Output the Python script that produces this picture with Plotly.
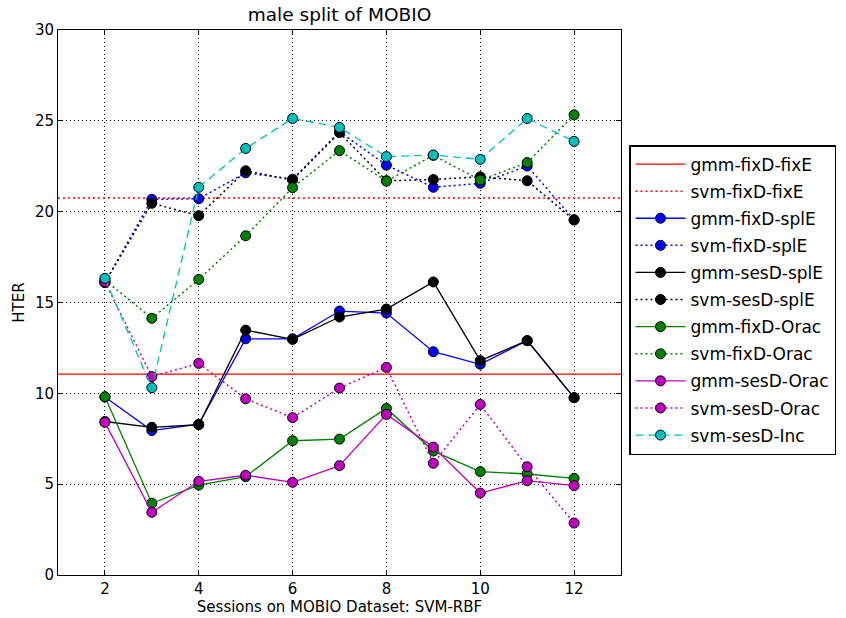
import plotly.graph_objects as go

sessions = [2, 3, 4, 5, 6, 7, 8, 9, 10, 11, 12]

gmm_fixD_fixE = 11.06
svm_fixD_fixE = 20.75

gmm_fixD_splE = [9.80, 7.95, 8.30, 13.0, 13.0, 14.53, 14.42, 12.29, 11.60, 12.90, 9.76]
svm_fixD_splE = [16.10, 20.68, 20.71, 22.14, 21.79, 24.40, 22.56, 21.34, 21.56, 22.51, 19.56]
gmm_sesD_splE = [8.45, 8.13, 8.27, 13.48, 12.97, 14.20, 14.64, 16.13, 11.80, 12.90, 9.76]
svm_sesD_splE = [16.10, 20.46, 19.78, 22.25, 21.74, 24.35, 21.70, 21.77, 21.92, 21.70, 19.54]
gmm_fixD_Orac = [9.81, 3.95, 4.95, 5.41, 7.39, 7.48, 9.17, 6.82, 5.69, 5.56, 5.32]
svm_fixD_Orac = [16.24, 14.13, 16.27, 18.67, 21.32, 23.36, 21.68, 23.10, 21.74, 22.70, 25.33]
gmm_sesD_Orac = [8.40, 3.45, 5.16, 5.49, 5.10, 6.02, 8.84, 7.04, 4.51, 5.19, 4.92]
svm_sesD_Orac = [16.15, 10.92, 11.65, 9.70, 8.66, 10.29, 11.43, 6.15, 9.39, 5.96, 2.86]
svm_sesD_Inc = [16.33, 10.31, 21.34, 23.48, 25.13, 24.64, 23.03, 23.12, 22.88, 25.13, 23.87]

x_ticks = [2, 4, 6, 8, 10, 12]
y_ticks = [0, 5, 10, 15, 20, 25, 30]

FONT = "DejaVu Sans"
DOT = "2px,3px"
fig = go.Figure()

# horizontal reference lines spanning the x range
x_span = [1, 13]
fig.add_trace(go.Scatter(x=x_span, y=[gmm_fixD_fixE] * 2, mode="lines", legendgroup="a",
                         name="gmm-fixD-fixE", line=dict(color="#ff0000", width=1.3)))
fig.add_trace(go.Scatter(x=x_span, y=[svm_fixD_fixE] * 2, mode="lines", legendgroup="b",
                         name="svm-fixD-fixE", line=dict(color="#ff0000", width=1.5, dash=DOT)))

series = [
    ("gmm-fixD-splE", gmm_fixD_splE, "#0000ff", "solid"),
    ("svm-fixD-splE", svm_fixD_splE, "#0000ff", DOT),
    ("gmm-sesD-splE", gmm_sesD_splE, "#000000", "solid"),
    ("svm-sesD-splE", svm_sesD_splE, "#000000", DOT),
    ("gmm-fixD-Orac", gmm_fixD_Orac, "#008000", "solid"),
    ("svm-fixD-Orac", svm_fixD_Orac, "#008000", DOT),
    ("gmm-sesD-Orac", gmm_sesD_Orac, "#bf00bf", "solid"),
    ("svm-sesD-Orac", svm_sesD_Orac, "#bf00bf", DOT),
    ("svm-sesD-Inc", svm_sesD_Inc, "#00bfbf", "8px,5px"),
]
for name, vals, color, dash in series:
    fig.add_trace(go.Scatter(
        x=sessions, y=vals, mode="lines+markers", name=name, legendgroup=name,
        line=dict(color=color, width=1.5 if dash == DOT else 1.3, dash=dash),
        marker=dict(size=10, color=color, line=dict(color="#000000", width=1)),
    ))

axis_common = dict(
    showline=True, mirror="ticks", linecolor="#000000", linewidth=1,
    ticks="inside", ticklen=5, tickcolor="#000000",
    showgrid=True, gridcolor="#000000", gridwidth=1, griddash="1px,3px",
    zeroline=False, automargin=False,
    tickfont=dict(family=FONT, size=15, color="#000000"),
)

fig.update_layout(
    width=846, height=618,
    margin=dict(l=58, r=225, t=30, b=43),
    paper_bgcolor="white", plot_bgcolor="white",
    font=dict(family=FONT, color="#000000"),
    title=dict(text="male split of MOBIO", x=(58 + 621) / 2 / 846, xanchor="center",
               y=1 - 15 / 618, yanchor="middle", font=dict(family=FONT, size=18.5)),
    xaxis=dict(range=[1, 13], tickvals=x_ticks,
               title=dict(text="Sessions on MOBIO Dataset: SVM-RBF", standoff=2,
                          font=dict(family=FONT, size=15)), **axis_common),
    yaxis=dict(range=[0, 30], tickvals=y_ticks,
               title=dict(text="HTER", standoff=6, font=dict(family=FONT, size=15)), **axis_common),
    legend=dict(xref="container", yref="container", x=629 / 846, y=1 - 145 / 618,
                xanchor="left", yanchor="top", bordercolor="#000000", borderwidth=1.5,
                bgcolor="white", font=dict(family=FONT, size=17), tracegroupgap=2,
                itemwidth=50, maxheight=420),
    showlegend=True,
)

fig.write_html("out.html")
